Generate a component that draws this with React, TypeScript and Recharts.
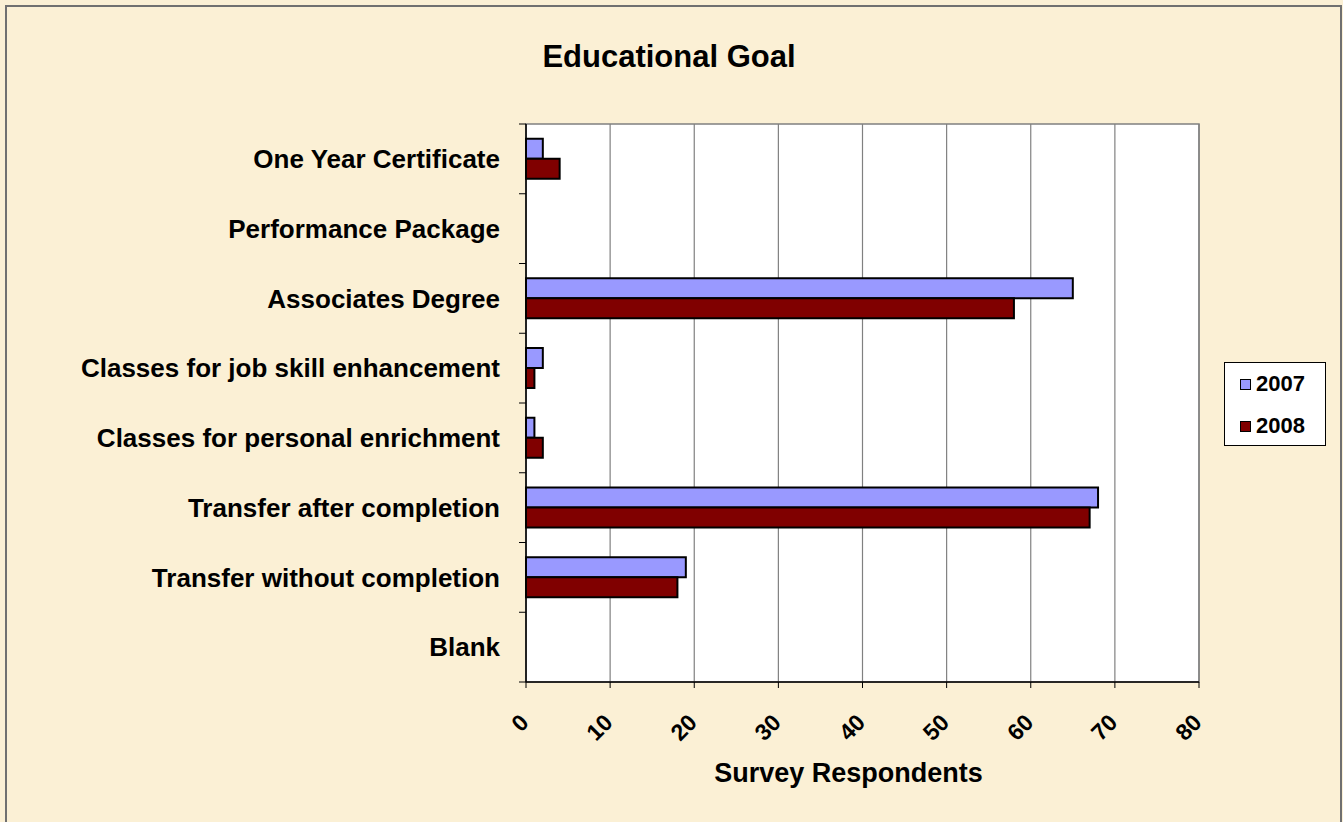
import React from 'react';
import { BarChart, Bar, XAxis, YAxis, CartesianGrid, ReferenceArea, Legend } from 'recharts';

// categories, top to bottom
const goals = [
  'One Year Certificate',
  'Performance Package',
  'Associates Degree',
  'Classes for job skill enhancement',
  'Classes for personal enrichment',
  'Transfer after completion',
  'Transfer without completion',
  'Blank',
];

const respondents2007 = [2, 0, 65, 2, 1, 68, 19, 0];
const respondents2008 = [4, 0, 58, 1, 2, 67, 18, 0];

const xTicks = [0, 10, 20, 30, 40, 50, 60, 70, 80];

const data = goals.map((goal, i) => ({
  goal,
  y2007: respondents2007[i],
  y2008: respondents2008[i],
}));

const FONT = 'Arial, "Liberation Sans", Helvetica, sans-serif';

const legendItems = [
  { name: '2007', color: '#9999FF' },
  { name: '2008', color: '#800000' },
];

const LegendBox = () => (
  <div
    style={{
      width: 102,
      height: 84,
      background: '#fff',
      border: '1px solid #000',
      fontFamily: FONT,
      fontWeight: 'bold',
      fontSize: 22,
      boxSizing: 'border-box',
      padding: '9px 0 0 15px',
    }}
  >
    {legendItems.map(item => (
      <div key={item.name} style={{ display: 'flex', alignItems: 'center', height: 24, marginBottom: 18 }}>
        <span
          style={{
            width: 9,
            height: 9,
            background: item.color,
            border: '1.5px solid #000',
            marginRight: 5,
            display: 'inline-block',
          }}
        />
        <span>{item.name}</span>
      </div>
    ))}
  </div>
);

const TICK_GAP = 26; // distance from label end to axis line

// category label plus Excel-style tick marks on the band edges
const YTick = (props: any) => {
  const { x, y, payload, index } = props;
  const half = payload.offset || 0;
  const axisX = x + TICK_GAP;
  return (
    <g>
      <line x1={axisX - 7} x2={axisX} y1={y - half} y2={y - half} stroke="#000" strokeWidth={1} />
      {index === goals.length - 1 && (
        <line x1={axisX - 7} x2={axisX} y1={y + half} y2={y + half} stroke="#000" strokeWidth={1} />
      )}
      <text
        x={x}
        y={y}
        dy="0.36em"
        textAnchor="end"
        fill="#000"
        fontFamily={FONT}
        fontWeight="bold"
        fontSize={26}
      >
        {payload.value}
      </text>
    </g>
  );
};

// rotated x tick label, ending just below/right of its tick
const XTick = (props: any) => {
  const { x, y, payload } = props;
  const ax = x + 4;
  const ay = y + 36;
  return (
    <text
      x={ax}
      y={ay}
      transform={`rotate(-45, ${ax}, ${ay})`}
      textAnchor="end"
      fill="#000"
      fontFamily={FONT}
      fontWeight="bold"
      fontSize={23}
    >
      {payload.value}
    </text>
  );
};

export default function App() {
  return (
    <div
      style={{
        position: 'absolute',
        left: 0,
        top: 0,
        width: 1343,
        height: 822,
        background: '#FBF0D5',
        overflow: 'hidden',
      }}
    >
      <div
        style={{
          position: 'absolute',
          left: 5,
          top: 5,
          width: 1333,
          height: 830,
          borderLeft: '2px solid #707070',
          borderTop: '2px solid #707070',
          borderRight: '2px solid #707070',
        }}
      />
      <div
        style={{
          position: 'absolute',
          left: 0,
          top: 39,
          width: 1338,
          textAlign: 'center',
          fontFamily: FONT,
          fontWeight: 'bold',
          fontSize: 31,
        }}
      >
        Educational Goal
      </div>
      <BarChart
        width={1343}
        height={822}
        data={data}
        layout="vertical"
        margin={{ top: 124, right: 144, bottom: 38, left: 0 }}
        barCategoryGap="21%"
        barGap={0}
        style={{ position: 'absolute', left: 0, top: 0 }}
      >
        <CartesianGrid horizontal={false} stroke="#808080" strokeWidth={1.2} fill="#fff" fillOpacity={1} />
        <ReferenceArea x1={0} x2={80} fill="none" stroke="#808080" strokeWidth={1.5} />
        <XAxis
          type="number"
          domain={[0, 80]}
          ticks={xTicks}
          interval={0}
          height={102}
          axisLine={{ stroke: '#000', strokeWidth: 1.5 }}
          tickLine={{ stroke: '#000' }}
          tickSize={6}
          tickMargin={0}
          tick={XTick}
          label={{
            value: 'Survey Respondents',
            position: 'insideBottom',
            offset: 2,
            dx: -14,
            fill: '#000',
            fontFamily: FONT,
            fontWeight: 'bold',
            fontSize: 27,
          }}
        />
        <YAxis
          type="category"
          dataKey="goal"
          width={526}
          axisLine={{ stroke: '#000', strokeWidth: 1.5 }}
          tickLine={false}
          tickSize={6}
          tickMargin={20}
          interval={0}
          tick={YTick}
        />
        <Legend
          layout="horizontal"
          verticalAlign="middle"
          align="center"
          content={() => <LegendBox />}
          wrapperStyle={{ left: 1224, top: 362, width: 102, height: 84 }}
        />
        <Bar dataKey="y2007" name="2007" fill="#9999FF" stroke="#000" strokeWidth={2} isAnimationActive={false} />
        <Bar dataKey="y2008" name="2008" fill="#800000" stroke="#000" strokeWidth={2} isAnimationActive={false} />
      </BarChart>
    </div>
  );
}
